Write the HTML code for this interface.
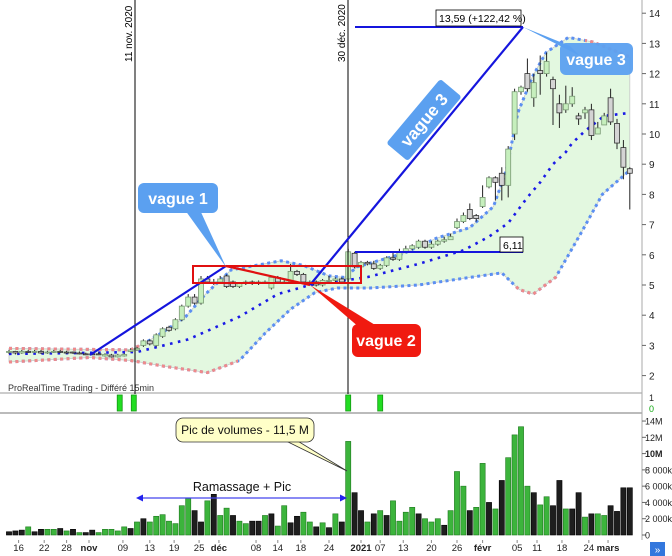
<!DOCTYPE html>
<html><head><meta charset="utf-8"><style>
html,body{margin:0;padding:0;background:#fff;}
svg{display:block;font-family:"Liberation Sans",sans-serif;}
</style></head><body>
<svg id="chart" width="672" height="556" viewBox="0 0 672 556" xmlns="http://www.w3.org/2000/svg">
<defs>
<clipPath id="clipPrice"><rect x="0" y="0" width="642" height="393"/></clipPath>
<clipPath id="redUpA"><rect x="0" y="0" width="140" height="393"/></clipPath>
<clipPath id="redUpB"><rect x="585" y="0" width="60" height="393"/></clipPath>
<clipPath id="redLoA"><rect x="0" y="0" width="238" height="393"/></clipPath>
<clipPath id="redLoB"><rect x="515" y="0" width="42" height="393"/></clipPath>
</defs>
<rect x="0" y="0" width="672" height="556" fill="#fff"/>
<g id="bands" clip-path="url(#clipPrice)"></g>
<g id="candles" clip-path="url(#clipPrice)"></g>
<g id="volumes"></g>
<g id="axes"></g>
<g id="annot"></g>
</svg>
<script>
// ---- data ----
const closes = [2.8,2.75,2.8,2.78,2.8,2.75,2.78,2.8,2.78,2.75,2.75,2.72,2.7,2.7,2.7,
 2.7,2.62,2.68,2.7,
 2.85,2.9,3.15,3.05,3.35,3.55,3.5,3.85,4.3,4.6,4.4,
 5.2,5.1,5.1,5.2,4.95,4.95,5.05,5.1,5.05,5.1,5.1,5.25,5.1,5.1,5.45,5.35,5.1,5.1,5.0,5.15,5.15,5.2,5.1,
 6.1,5.6,5.75,5.7,5.55,5.65,5.9,5.85,6.1,6.2,6.3,6.45,6.25,6.35,6.45,6.5,6.6,
 7.1,7.3,7.2,7.2,7.9,8.55,8.4,8.3,9.5,11.4,11.55,11.5,11.7,12.0,12.4,11.5,10.7,11.0,11.25,10.5,10.8,9.95,10.2,10.6,10.4,9.7,8.9,8.7];
const opens = [2.78,2.8,2.75,2.8,2.78,2.8,2.75,2.78,2.8,2.78,2.78,2.75,2.72,2.72,2.72,
 2.65,2.68,2.62,2.65,
 2.8,2.85,3.0,3.15,3.0,3.3,3.6,3.55,3.85,4.3,4.6,
 4.4,5.2,5.05,5.1,5.3,5.1,4.95,5.05,5.1,5.05,5.1,4.9,5.25,5.1,5.1,5.45,5.35,5.1,5.1,5.0,5.15,5.15,5.2,
 5.2,6.05,5.6,5.75,5.7,5.55,5.65,5.9,5.85,6.1,6.2,6.25,6.45,6.25,6.35,6.45,6.5,
 6.9,7.1,7.5,7.3,7.6,8.25,8.55,8.7,8.3,10.0,11.4,12.0,11.2,12.1,12.0,11.8,11.0,10.8,11.0,10.6,10.7,10.8,10.0,10.3,11.2,10.35,9.55,8.85];
const highs = [2.85,2.82,2.85,2.85,2.85,2.85,2.82,2.85,2.85,2.82,2.8,2.8,2.76,2.76,2.76,
 2.74,2.72,2.72,2.74,
 2.9,2.95,3.2,3.2,3.4,3.6,3.65,3.9,4.35,4.7,4.7,
 5.3,5.3,5.2,5.3,5.35,5.15,5.1,5.15,5.15,5.15,5.15,5.3,5.3,5.15,5.7,5.5,5.4,5.15,5.15,5.2,5.3,5.25,5.25,
 6.2,6.1,5.8,5.8,5.8,5.7,5.95,6.1,6.2,6.3,6.35,6.5,6.5,6.45,6.5,6.6,6.7,
 7.2,7.4,7.7,7.35,8.3,8.6,8.6,8.9,9.6,11.5,11.6,12.5,12.0,12.6,12.7,11.9,11.3,11.6,11.55,10.7,10.9,11.0,10.4,10.7,11.5,10.5,9.8,8.9];
const lows = [2.72,2.7,2.72,2.75,2.75,2.72,2.72,2.75,2.75,2.72,2.72,2.7,2.68,2.68,2.68,
 2.63,2.6,2.6,2.63,
 2.78,2.82,2.95,3.0,2.95,3.25,3.45,3.5,3.8,4.25,4.35,
 4.35,5.05,5.0,5.05,4.9,4.9,4.9,5.0,5.0,5.0,5.05,4.85,5.05,5.05,5.05,5.3,5.05,5.05,4.95,4.95,5.1,5.1,5.05,
 5.1,5.55,5.55,5.65,5.5,5.5,5.6,5.8,5.8,6.05,6.15,6.2,6.2,6.2,6.3,6.4,6.5,
 6.85,7.05,7.15,7.1,7.55,8.2,7.8,7.8,7.9,9.8,11.3,11.4,10.9,11.3,11.9,10.3,10.2,10.7,10.9,10.3,10.5,9.8,10.0,10.4,10.3,9.5,8.5,7.5];
// volumes in millions, 'g' = up (green), 'k' = down (black)
const volumes = [0.4,0.5,0.6,1.0,0.4,0.7,0.7,0.7,0.8,0.5,0.7,0.3,0.3,0.6,0.3,0.7,0.7,0.5,1.0,0.8,
 1.6,2.0,1.6,2.3,2.5,1.7,1.4,3.6,4.5,3.0,1.6,4.2,5.0,2.4,3.3,2.4,1.7,1.4,1.7,1.7,
 2.4,2.6,1.1,3.6,1.5,2.3,2.8,1.6,1.0,1.5,0.9,2.6,1.6,11.5,5.2,3.0,1.6,2.6,3.0,2.4,
 4.2,1.7,2.8,3.4,2.6,2.0,1.6,2.0,1.2,3.0,7.8,6.0,3.0,3.4,8.8,4.0,3.2,6.7,9.5,12.3,
 13.3,6.0,5.2,3.7,4.7,3.6,6.7,3.2,3.2,5.2,2.2,2.6,2.6,2.4,3.6,2.9,5.8,5.8];
const volColors = "kkkgkkggkg"+"kgkkgggggk"+"gkgggggggk"+"kgkggkggkk"+"gkggkkggkg"+"kgkgkkgkgk"+"ggggkgggkg"+"ggkggkgkgg"+"ggkggkkgkk"+"gkggkkkk";
// Bollinger bands: bar index keypoints + values
const upIdx = [0,19,21.4,24.5,27.6,30.7,34.7,42.5,46,50,52.4,54.4,61.7,66.8,72,75.7,77.7,79.5,81.8,83.9,87.4,91.2,97];
const upVal = [2.9,2.85,3.1,3.5,3.95,4.7,5.5,5.8,5.65,5.3,5.25,5.6,6.05,6.55,6.9,7.6,8.8,10.7,11.9,12.7,13.2,13.05,12.55];
const loIdx = [0,12.6,19,24.5,31,36,40,44,47.8,51.3,56.4,64,72,77,79.7,81.9,85.4,89.6,92.7,97];
const loVal = [2.45,2.6,2.5,2.3,2.1,2.5,3.4,4.2,4.75,4.9,4.9,5.0,5.25,5.4,4.85,4.7,5.25,6.8,8.0,8.8];
const midIdx = [0,12,20,28,36,42,47,54,56,64,71,75,78,81,83,85,87,88,90,93,97];
const midVal = [2.72,2.75,2.78,3.2,3.95,4.7,5.0,5.2,5.26,5.7,6.15,6.6,7.05,7.9,8.4,9.0,9.4,9.7,10.1,10.6,10.7];
const priceTicks = [14,13,12,11,10,9,8,7,6,5,4,3,2];
const volTickVals = [14,12,10,8,6,4,2,0];
const volTickLabels = ["14M","12M","10M","8 000k","6 000k","4 000k","2 000k","0"];
const dateLabels = ["16","22","28","nov","09","13","19","25","déc","08","14","18","24","2021","07","13","20","26","févr","05","11","18","24","mars"];
const dateIdx = [1.5,5.5,9,12.5,17.8,22,25.8,29.7,32.8,38.6,42,45.6,50,55,58,61.6,66,70,74,79.4,82.5,86.4,90.6,93.6];
const signalIdx = [17.3,19.5,53,58];

// ---- scales ----
const NS="http://www.w3.org/2000/svg";
const xOf = i => 9 + i*6.4;
const yP = p => 285 - (p-5)*30.2;
const yV = v => 535 - v*8.14;
function mk(tag, attrs, parent){const e=document.createElementNS(NS,tag);for(const k in attrs)e.setAttribute(k,attrs[k]);parent.appendChild(e);return e;}
const bands=document.getElementById('bands'), cg=document.getElementById('candles'), vg=document.getElementById('volumes'), ag=document.getElementById('axes'), an=document.getElementById('annot');
const pts=(ix,vals)=>ix.map((i,k)=>xOf(i).toFixed(1)+','+yP(vals[k]).toFixed(1));

// band fill
const upPts=pts(upIdx,upVal), loPts=pts(loIdx,loVal).reverse();
let fill=mk('polygon',{points:upPts.concat(loPts).join(' '),fill:'#e3f8e0',stroke:'#c8c8c8','stroke-width':'0.8'},bands);


function dotted(p,color,name,clip){const e=mk('polyline',{points:p.join(' '),fill:'none',stroke:color,'stroke-width':'3','stroke-dasharray':'3 3.4'},bands);if(clip)e.setAttribute('clip-path','url(#'+clip+')');}
dotted(upPts,'#5b8ff2','bollinger-upper');
dotted(upPts,'#f08a8a','bollinger-upper-red','redUpA');
dotted(upPts,'#f08a8a','bollinger-upper-red','redUpB');
const lo2=pts(loIdx,loVal);
dotted(lo2,'#5b8ff2','bollinger-lower');
dotted(lo2,'#f08a8a','bollinger-lower-red','redLoA');
dotted(lo2,'#f08a8a','bollinger-lower-red','redLoB');
const mid=mk('polyline',{points:pts(midIdx,midVal).join(' '),fill:'none',stroke:'#1a1ae6','stroke-width':'2.6','stroke-dasharray':'2.6 5.5'},bands);



// candles
closes.forEach((c,i)=>{
  const o=opens[i], x=xOf(i), up=c>=o;
  const g=mk('g',{},cg);
  
  
  mk('line',{x1:x,x2:x,y1:yP(highs[i]),y2:yP(lows[i]),stroke:'#222','stroke-width':'1'},g);
  const t=yP(Math.max(o,c)), b=yP(Math.min(o,c));
  mk('rect',{x:x-2.5,y:t,width:5,height:Math.max(1,b-t),fill:up?'#c6efbd':'#d4d4d4',stroke:up?'#7a9a75':'#333','stroke-width':'0.8'},g);
});

// volumes
volumes.forEach((v,i)=>{
  const x=xOf(i)-2.6, y=yV(v);
  const r=mk('rect',{x:x,y:y,width:5.2,height:535-y,fill:volColors[i]==='g'?'#3cb43c':'#1e1e1e',stroke:volColors[i]==='g'?'#1f7a1f':'#000','stroke-width':'0.6'},vg);
  
  
});

// panels & axes
mk('line',{x1:0,x2:642,y1:393,y2:393,stroke:'#bbb','stroke-width':'1.5'},ag);
mk('line',{x1:0,x2:642,y1:413,y2:413,stroke:'#bbb','stroke-width':'2'},ag);
mk('line',{x1:642,x2:642,y1:0,y2:540,stroke:'#aaa','stroke-width':'1'},ag);
priceTicks.forEach(p=>{
  mk('line',{x1:642,x2:646,y1:yP(p),y2:yP(p),stroke:'#666'},ag);
  const t=mk('text',{x:649,y:yP(p)+4,'font-size':'10',fill:'#222'},ag);t.textContent=p;
  
  
});
volTickVals.forEach((v,k)=>{
  mk('line',{x1:642,x2:646,y1:yV(v),y2:yV(v),stroke:'#666'},ag);
  const t=mk('text',{x:645,y:yV(v)+3.5,'font-size':'9','font-weight':k==2?'bold':'normal',fill:'#222'},ag);t.textContent=volTickLabels[k];
  
  
});
dateLabels.forEach((d,k)=>{
  const x=xOf(dateIdx[k]);
  mk('line',{x1:x,x2:x,y1:540,y2:543,stroke:'#888'},ag);
  const t=mk('text',{x:x,y:551,'font-size':'9.5','text-anchor':'middle',fill:'#222','font-weight':/[a-z]/.test(d)||d==='2021'?'bold':'normal'},ag);t.textContent=d;
  
  
});
signalIdx.forEach(i=>{
  const r=mk('rect',{x:xOf(i)-2.5,y:395,width:5,height:16,fill:'#22dd22',stroke:'#139913','stroke-width':'0.8'},ag);
  
  
});
</script>
<svg style="position:absolute;left:0;top:0" width="672" height="556" viewBox="0 0 672 556">
  <text x="649" y="401" font-size="9" fill="#222">1</text>
  <text x="649" y="412" font-size="9" fill="#1a1">0</text>
  <line x1="135" y1="0" x2="135" y2="394" stroke="#000" stroke-width="1"/>
  <line x1="348" y1="0" x2="348" y2="394" stroke="#000" stroke-width="1"/>
  <text transform="translate(132,62) rotate(-90)" font-size="10" fill="#000">11 nov. 2020</text>
  <text transform="translate(345,62) rotate(-90)" font-size="10" fill="#000">30 déc. 2020</text>
  <text x="8" y="391" font-size="9" fill="#333">ProRealTime Trading - Différé 15min</text>
  <polyline points="90,355 226,266" fill="none" stroke="#1515dd" stroke-width="2.2"/>
  <polyline points="226,266 310,285" fill="none" stroke="#e01010" stroke-width="2.2"/>
  <polyline points="310,285 523,27" fill="none" stroke="#1515dd" stroke-width="2.2"/>
  <line x1="355" y1="27" x2="523" y2="27" stroke="#1515dd" stroke-width="2"/>
  <rect x="436" y="10" width="85" height="16" fill="#fff" stroke="#000" stroke-width="0.8"/>
  <text x="439" y="22" font-size="10.5" fill="#000">13,59 (+122,42 %)</text>
  <line x1="355" y1="252" x2="523" y2="252" stroke="#1515dd" stroke-width="2"/>
  <rect x="500" y="237" width="23" height="15" fill="#fff" stroke="#000" stroke-width="0.8"/>
  <text x="503" y="249" font-size="10.5" fill="#000">6,11</text>
  <rect x="193" y="266" width="168" height="17" fill="none" stroke="#e01010" stroke-width="2"/>
  <polygon points="185,210 200,210 226,267" fill="#5ba0f0"/>
  <rect x="138" y="183" width="80" height="30" rx="6" fill="#5ba0f0"/>
  <text x="178" y="204" font-size="16" font-weight="bold" fill="#fff" text-anchor="middle">vague 1</text>
  <polygon points="360,328 380,328 310,285" fill="#f01a10"/>
  <rect x="352" y="324" width="69" height="33" rx="6" fill="#f01a10"/>
  <text x="386" y="346" font-size="16" font-weight="bold" fill="#fff" text-anchor="middle">vague 2</text>
  <g transform="translate(424,120) rotate(-50)">
    <rect x="-42" y="-14" width="84" height="28" rx="3" fill="#5ba0f0"/>
    <text x="0" y="6" font-size="17" font-weight="bold" fill="#fff" text-anchor="middle">vague 3</text>
  </g>
  <polygon points="523,27 570,46 580,56" fill="#5ba0f0"/>
  <rect x="560" y="43" width="73" height="32" rx="6" fill="#5ba0f0" opacity="0.95"/>
  <text x="596" y="65" font-size="16" font-weight="bold" fill="#fff" text-anchor="middle">vague 3</text>
  <polygon points="284,440 296,440 347,471" fill="#ffffc8" stroke="#333" stroke-width="0.8"/>
  <rect x="176" y="418" width="138" height="24" rx="7" fill="#ffffc8" stroke="#333" stroke-width="0.8"/>
  <text x="245" y="434" font-size="12" fill="#111" text-anchor="middle">Pic de volumes - 11,5 M</text>
  <text x="242" y="491" font-size="12.5" fill="#111" text-anchor="middle">Ramassage + Pic</text>
  <line x1="140" y1="498" x2="343" y2="498" stroke="#4444ee" stroke-width="1.2"/>
  <polygon points="136,498 143,494.5 143,501.5" fill="#2222ee"/>
  <polygon points="347,498 340,494.5 340,501.5" fill="#2222ee"/>
  <rect x="650" y="542" width="15" height="14" fill="#3377dd"/>
  <text x="657.5" y="553" font-size="10" fill="#fff" text-anchor="middle">»</text>
</svg>
</body></html>
